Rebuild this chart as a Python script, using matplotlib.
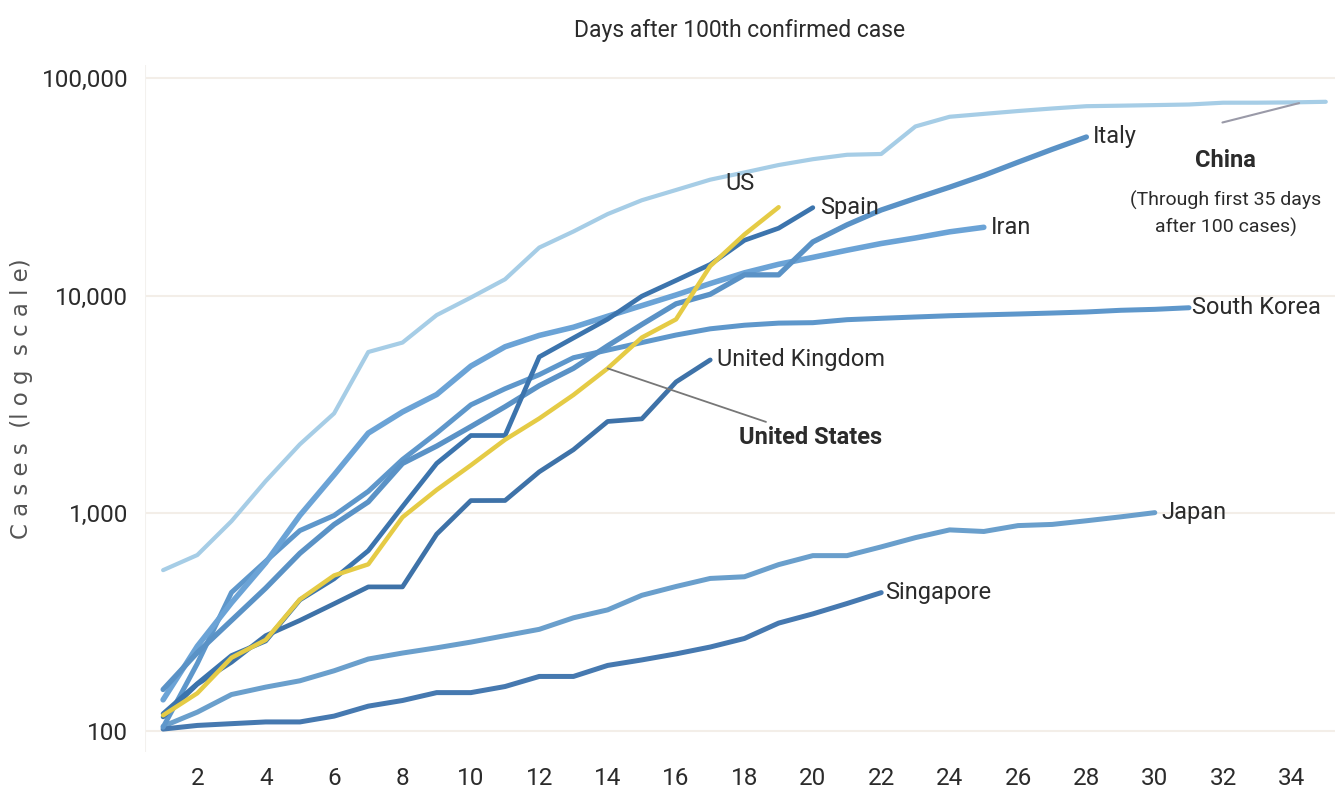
import matplotlib
matplotlib.use("Agg")
import matplotlib.pyplot as plt
from matplotlib.ticker import FixedLocator, FuncFormatter, NullLocator

plt.rcParams['font.family'] = ['Roboto', 'DejaVu Sans']

# cases by day after 100th confirmed case
china = [548, 643, 920, 1406, 2075, 2877, 5509, 6087, 8141, 9802, 11891, 16630,
         19716, 23707, 27440, 30587, 34110, 36814, 39829, 42354, 44386, 44759,
         59895, 66358, 68413, 70513, 72434, 74211, 74619, 75077, 75550, 77001,
         77022, 77241, 77754]
italy = [155, 229, 322, 453, 655, 888, 1128, 1694, 2036, 2502, 3089, 3858, 4636,
         5883, 7375, 9172, 10149, 12462, 12462, 17660, 21157, 24747, 27980,
         31506, 35713, 41035, 47021, 53578]
spain = [120, 165, 222, 259, 400, 500, 673, 1073, 1695, 2277, 2277, 5232, 6391,
         7798, 9942, 11748, 13910, 17963, 20410, 25374]
iran = [139, 245, 388, 593, 978, 1501, 2336, 2922, 3513, 4747, 5823, 6566, 7161,
        8042, 9000, 10075, 11364, 12729, 13938, 14991, 16169, 17361, 18407,
        19644, 20610]
south_korea = [104, 204, 433, 602, 833, 977, 1261, 1766, 2337, 3150, 3736, 4335,
               5186, 5621, 6088, 6593, 7041, 7314, 7478, 7513, 7755, 7869, 7979,
               8086, 8162, 8236, 8320, 8413, 8565, 8652, 8799]
uk = [116, 164, 207, 274, 322, 384, 459, 459, 802, 1144, 1145, 1551, 1960, 2642,
      2716, 4014, 5067]
japan = [105, 122, 147, 159, 170, 189, 214, 228, 241, 256, 274, 293, 331, 360,
         420, 461, 502, 511, 581, 639, 639, 701, 773, 839, 825, 878, 889, 924,
         963, 1007]
singapore = [102, 106, 108, 110, 110, 117, 130, 138, 150, 150, 160, 178, 178, 200,
             212, 226, 243, 266, 313, 345, 385, 432]
us = [118, 149, 217, 262, 402, 518, 583, 959, 1281, 1663, 2179, 2727, 3499, 4632,
      6421, 7783, 13677, 19100, 25489]

x_ticks = list(range(2, 35, 2))
y_ticks = [100, 1000, 10000, 100000]

fig = plt.figure(figsize=(13.35, 7.98), dpi=100)
ax = fig.add_axes([0.1086, 0.0576, 0.8914, 0.861])

def days(vals):
    return list(range(1, len(vals) + 1))

series = [
    (china, '#a6cde6', 3.0),
    (japan, '#6a9fcc', 3.6),
    (singapore, '#4679b0', 3.6),
    (south_korea, '#5e97cb', 3.6),
    (iran, '#6ba3d6', 4.0),
    (italy, '#5a92c6', 3.8),
    (uk, '#3e72a8', 3.4),
    (spain, '#3c74ad', 3.4),
]
for vals, col, lw in series:
    ax.plot(days(vals), vals, color=col, lw=lw, solid_capstyle='round',
            solid_joinstyle='round')
ax.plot(days(us), us, color='#e5cb45', lw=3.2, solid_capstyle='round', zorder=5)

ax.set_yscale('log')
ax.set_xlim(0.47, 35.27)
ax.set_ylim(80, 114800)
ax.yaxis.set_major_locator(FixedLocator(y_ticks))
ax.yaxis.set_minor_locator(NullLocator())
ax.yaxis.set_major_formatter(FuncFormatter(lambda v, p: f'{int(v):,}'))
ax.set_xticks(x_ticks)
ax.tick_params(length=0, labelsize=17.5, colors='#2b2b2b', pad=11)
ax.tick_params(axis='y', pad=12)
for s in ax.spines.values():
    s.set_visible(False)
ax.grid(axis='y', color='#f3eee8', lw=1.5)
ax.axvline(0.47, color='#f3f1ee', lw=1.5)
ax.set_axisbelow(True)

fig.text(0.016, 0.5, 'C a s e s  (l o g  s c a l e)', rotation=90, ha='center',
         va='center', fontsize=16.5, color='#555555', family=['DejaVu Sans'],
         fontweight='medium')
fig.text(0.554, 0.962, 'Days after 100th confirmed case', ha='center',
         va='center', fontsize=16.5, color='#2b2b2b')

lab = dict(fontsize=17, color='#2b2b2b', va='center')
ax.text(len(italy) + 0.2, italy[-1], 'Italy', ha='left', **lab)
ax.text(len(spain) + 0.2, spain[-1], 'Spain', ha='left', **lab)
ax.text(len(iran) + 0.2, iran[-1], 'Iran', ha='left', **lab)
ax.text(len(south_korea) + 0.1, south_korea[-1], 'South Korea', ha='left', **lab)
ax.text(len(uk) + 0.2, uk[-1], 'United Kingdom', ha='left', **lab)
ax.text(len(japan) + 0.2, japan[-1], 'Japan', ha='left', **lab)
ax.text(len(singapore) + 0.1, singapore[-1], 'Singapore', ha='left', **lab)
ax.text(17.87, 32900, 'US', ha='center', **lab)

ax.annotate('United States', xy=(14, us[13]), xytext=(17.85, 2240),
            ha='left', fontweight='bold', arrowprops=dict(arrowstyle='-',
            color='#777777', lw=1.3, shrinkA=2, shrinkB=0), zorder=6, **lab)

ax.text(32.08, 42000, 'China', ha='center', fontweight='bold', **lab)
ax.text(32.08, 23700, '(Through first 35 days\nafter 100 cases)', ha='center',
        fontsize=14, color='#2b2b2b', va='center', linespacing=1.55)
ax.annotate('', xy=(34.3, china[33]), xytext=(31.9, 62000),
            arrowprops=dict(arrowstyle='-', color='#9a9aa8', lw=1.5))

fig.savefig('out.png', dpi=100)
